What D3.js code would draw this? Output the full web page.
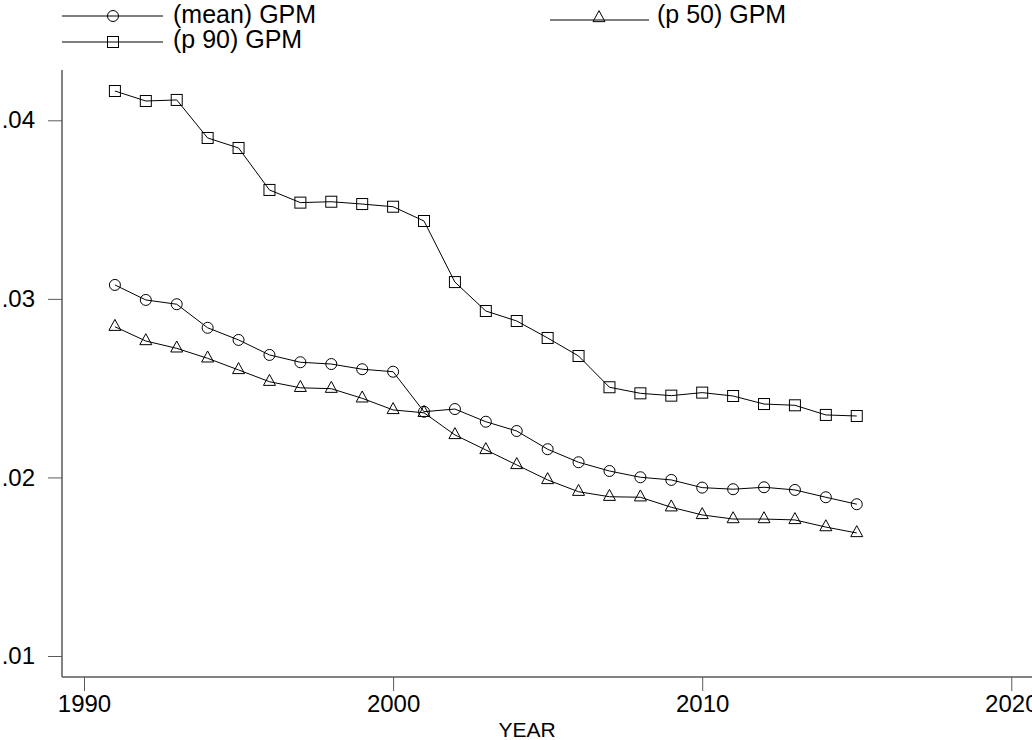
<!DOCTYPE html>
<html>
<head>
<meta charset="utf-8">
<script src="https://cdn.jsdelivr.net/npm/d3@7"></script>
<style>
  html, body { margin: 0; padding: 0; background: #fff; }
  svg { display: block; }
  text { font-family: "Liberation Sans", Arial, Helvetica, sans-serif; fill: #000; }
</style>
</head>
<body>
<svg id="chart" width="1032" height="740"></svg>
<script>
const years = d3.range(1991, 2016);
const meanGPM = [0.03078, 0.02994, 0.02970, 0.02838, 0.02770, 0.02686, 0.02645, 0.02635, 0.02606, 0.02592,
                 0.02368, 0.02383, 0.02312, 0.02260, 0.02158, 0.02085, 0.02036, 0.02001, 0.01986, 0.01943,
                 0.01934, 0.01945, 0.01930, 0.01889, 0.01850];
const p50GPM  = [0.02844, 0.02764, 0.02723, 0.02667, 0.02602, 0.02536, 0.02502, 0.02497, 0.02443, 0.02378,
                 0.02362, 0.02238, 0.02154, 0.02070, 0.01986, 0.01920, 0.01892, 0.01889, 0.01833, 0.01790,
                 0.01767, 0.01767, 0.01762, 0.01722, 0.01689];
const p90GPM  = [0.04164, 0.04108, 0.04114, 0.03901, 0.03845, 0.03610, 0.03539, 0.03544, 0.03531, 0.03516,
                 0.03436, 0.03094, 0.02932, 0.02876, 0.02781, 0.02680, 0.02505, 0.02471, 0.02458, 0.02475,
                 0.02456, 0.02411, 0.02404, 0.02350, 0.02344];
const xTicks = [1990, 2000, 2010, 2020];
const yTicks = [0.01, 0.02, 0.03, 0.04];
const yTickLabels = [".01", ".02", ".03", ".04"];
const seriesNames = ["(mean) GPM", "(p 50) GPM", "(p 90) GPM"];
const xTitle = "YEAR";

const svg = d3.select("#chart");
const x = d3.scaleLinear().domain([1990, 2020]).range([84, 1011.3]);
const y = d3.scaleLinear().domain([0.01, 0.04]).range([656, 120.3]);

const axisX0 = 62, axisY0 = 677;
const axisColor = "#5a5a5a";

// axes
const gx = svg.append("g").attr("transform", `translate(0,${axisY0})`)
  .call(d3.axisBottom(x).tickValues(xTicks).tickFormat(d3.format("d")).tickSize(14).tickPadding(4));
gx.select(".domain").remove();
gx.append("line").attr("x1", axisX0).attr("x2", 1032).attr("stroke", axisColor).attr("stroke-width", 1.5);
gx.selectAll(".tick line").attr("stroke", axisColor).attr("stroke-width", 1);
gx.selectAll(".tick text").attr("font-size", 24).attr("fill", "#000")
  .style("font-family", '"Liberation Sans", Arial, sans-serif');

const gy = svg.append("g").attr("transform", `translate(${axisX0},0)`)
  .call(d3.axisLeft(y).tickValues(yTicks).tickFormat((d, i) => yTickLabels[i]).tickSize(14).tickPadding(13));
gy.select(".domain").remove();
gy.append("line").attr("y1", 70).attr("y2", axisY0).attr("stroke", axisColor).attr("stroke-width", 1.5);
gy.selectAll(".tick line").attr("stroke", axisColor).attr("stroke-width", 1);
gy.selectAll(".tick text").attr("font-size", 24).attr("fill", "#000")
  .style("font-family", '"Liberation Sans", Arial, sans-serif');

svg.append("text").attr("x", 527).attr("y", 737).attr("text-anchor", "middle")
  .attr("font-size", 21).text(xTitle);

// markers
const triH = 11, triW = 12;
function drawMarker(g, type, cx, cy) {
  if (type === "circle") {
    g.append("circle").attr("cx", cx).attr("cy", cy).attr("r", 5.5)
      .attr("fill", "none").attr("stroke", "#000").attr("stroke-width", 1);
  } else if (type === "square") {
    g.append("rect").attr("x", cx - 5.5).attr("y", cy - 5.5).attr("width", 11).attr("height", 11)
      .attr("fill", "none").attr("stroke", "#000").attr("stroke-width", 1);
  } else {
    const top = cy - triH * 2 / 3, bot = cy + triH / 3;
    g.append("path").attr("d", `M${cx},${top}L${cx + triW / 2},${bot}L${cx - triW / 2},${bot}Z`)
      .attr("fill", "none").attr("stroke", "#000").attr("stroke-width", 1);
  }
}

const series = [
  { name: seriesNames[0], values: meanGPM, marker: "circle" },
  { name: seriesNames[1], values: p50GPM, marker: "triangle" },
  { name: seriesNames[2], values: p90GPM, marker: "square" }
];

const line = d3.line().x(d => x(d[0])).y(d => y(d[1]));
series.forEach(s => {
  const g = svg.append("g");
  const pts = years.map((yr, i) => [yr, s.values[i]]);
  pts.forEach(p => drawMarker(g, s.marker, x(p[0]), y(p[1])));
  g.append("path").datum(pts).attr("d", line).attr("fill", "none")
    .attr("stroke", "#000").attr("stroke-width", 1);
});

// legend
const legendPos = [
  { x0: 62, x1: 163, mx: 113, ly: 16, ty: 23, tx: 173 },
  { x0: 550, x1: 649, mx: 599, ly: 20, ty: 23, tx: 657 },
  { x0: 62, x1: 163, mx: 113, ly: 42, ty: 48, tx: 173 }
];
series.forEach((s, i) => {
  const p = legendPos[i];
  const g = svg.append("g");
  g.append("line").attr("x1", p.x0).attr("x2", p.x1).attr("y1", p.ly).attr("y2", p.ly)
    .attr("stroke", "#000").attr("stroke-width", 1);
  drawMarker(g, s.marker, p.mx, s.marker === "triangle" ? p.ly - 2 : p.ly);
  g.append("text").attr("x", p.tx).attr("y", p.ty).attr("font-size", 25).text(s.name);
});
</script>
</body>
</html>
